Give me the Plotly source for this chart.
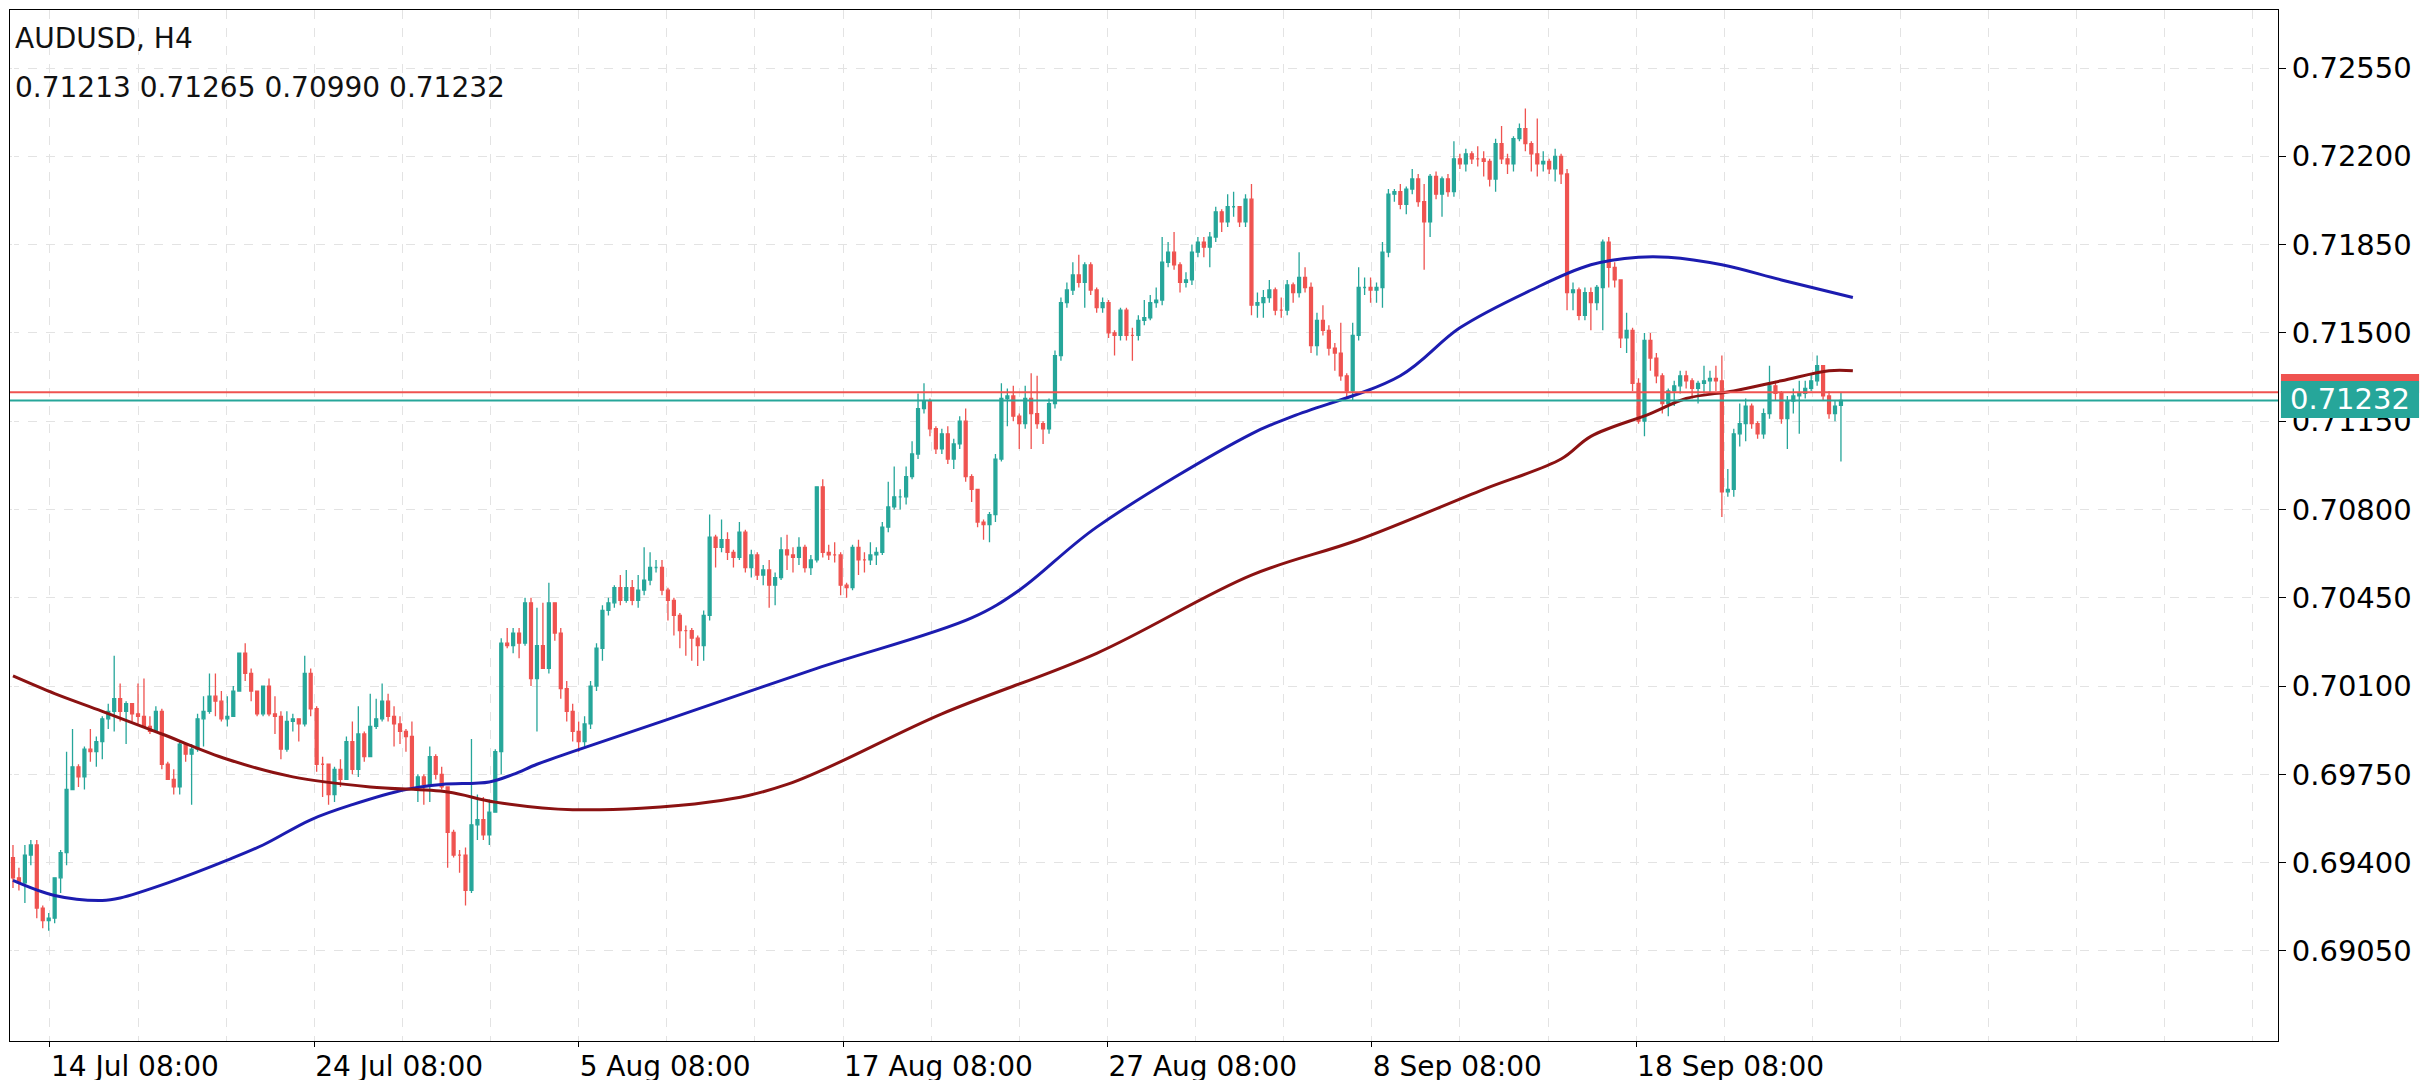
import plotly.graph_objects as go

# AUDUSD H4 candles, prices in pips (x 0.0001)
closes = [
    6934, 6932, 6943, 6947, 6922, 6917, 6918, 6934, 6944, 6969,
    6978, 6974, 6985, 6984, 6988, 6997, 7000, 7005, 7000, 7003,
    6999, 6998, 6994, 6992, 7000, 6979, 6973, 6970, 6987, 6983,
    6985, 6997, 7000, 7006, 7004, 6997, 6998, 7008, 7023, 7015,
    7008, 6999, 7010, 6999, 6998, 6985, 6996, 6997, 6995, 7015,
    7001, 6979, 6979, 6967, 6977, 6973, 6988, 6977, 6991, 6982,
    6994, 6997, 7004, 6998, 6995, 6992, 6990, 6970, 6974, 6971,
    6982, 6975, 6970, 6952, 6943, 6943, 6929, 6955, 6957, 6951,
    6960, 6984, 7027, 7026, 7031, 7027, 7043, 7013, 7026, 7017,
    7043, 7031,
    7009, 7000, 6992, 6988, 6995, 7010, 7025,
    7040, 7043, 7049, 7044, 7049, 7044, 7048, 7052, 7057, 7057,
    7048, 7044, 7038, 7032, 7032, 7029, 7026, 7038, 7069, 7065,
    7068, 7063, 7061, 7071, 7057, 7062, 7054, 7056, 7050, 7053,
    7064, 7062, 7061, 7065, 7057, 7060, 7089, 7063, 7062, 7062,
    7050, 7049, 7065, 7060, 7060, 7062, 7063, 7073, 7081, 7085,
    7085, 7093, 7102, 7120, 7123, 7112, 7104, 7110, 7100, 7106,
    7115, 7093, 7088, 7075, 7074, 7078, 7100, 7124, 7125, 7117,
    7114, 7124, 7118, 7114, 7112, 7122, 7141, 7162, 7167, 7173,
    7170, 7177, 7167, 7160, 7162, 7150, 7149, 7159, 7149, 7149,
    7155, 7156, 7162, 7163, 7178, 7182, 7177, 7170, 7171, 7182,
    7186, 7184, 7188, 7198, 7194, 7200, 7200, 7194, 7203, 7161,
    7162, 7164, 7167, 7159, 7159, 7169, 7166, 7172, 7168, 7145,
    7155, 7151, 7144, 7142, 7133, 7127, 7149, 7168, 7168, 7167,
    7168, 7182, 7205, 7206, 7201, 7207, 7211, 7202, 7194, 7212,
    7205, 7211, 7206, 7219, 7217, 7221, 7219, 7219, 7218, 7211,
    7225, 7219, 7217, 7227, 7231, 7225, 7221, 7217, 7218, 7215,
    7220, 7213, 7166, 7167, 7157,
    7166, 7162, 7168, 7186, 7176, 7171, 7148, 7151, 7130, 7115,
    7147, 7140, 7133, 7122, 7127, 7129, 7133, 7131, 7128, 7130,
    7131, 7132, 7131, 7087, 7088, 7110, 7114, 7121, 7114, 7110,
    7118, 7129, 7126, 7116, 7123, 7125, 7126, 7128, 7131, 7137,
    7125, 7118, 7121, 7123.2,
]
highs = [
    6947, 6938, 6947, 6949, 6949, 6923, 6920, 6934, 6945, 6984,
    6993, 6979, 6986, 6993, 6990, 6998, 7003, 7022, 7011, 7004,
    7002, 7011, 7013, 6998, 7002, 7001, 6980, 6977, 6988, 6986,
    6987, 6999, 7006, 7015, 7015, 7008, 7006, 7010, 7023, 7027,
    7017, 7008, 7010, 7013, 7006, 7000, 7000, 6999, 6997, 7022,
    7017, 7002, 6982, 6979, 6978, 6981, 6990, 6996, 7002, 6992,
    7007, 7005, 7011, 7007, 7002, 6998, 6993, 6996, 6975, 6975,
    6986, 6983, 6978, 6970, 6953, 6945, 6946, 6989, 6967, 6966,
    6965, 6985, 7029, 7033, 7033, 7033, 7045, 7045, 7041, 7043,
    7051, 7043,
    7033, 7012, 7003, 6996, 6998, 7012, 7027,
    7042, 7045, 7050, 7054, 7056, 7052, 7054, 7065, 7063, 7060,
    7060, 7049, 7045, 7039, 7034, 7033, 7030, 7040, 7078, 7070,
    7076, 7071, 7064, 7075, 7072, 7064, 7063, 7058, 7060, 7055,
    7069, 7070, 7065, 7069, 7066, 7062, 7089, 7092, 7066, 7067,
    7063, 7051, 7066, 7068, 7063, 7067, 7065, 7075, 7091, 7097,
    7088, 7097, 7107, 7126, 7130, 7124, 7113, 7112, 7113, 7108,
    7117, 7120, 7094, 7088, 7076, 7079, 7102, 7130, 7128, 7129,
    7118, 7129, 7134, 7133, 7115, 7124, 7143, 7164, 7170, 7178,
    7181, 7178, 7178, 7168, 7164, 7163, 7151, 7160, 7160, 7152,
    7157, 7163, 7165, 7168, 7188, 7186, 7190, 7178, 7174, 7185,
    7188, 7188, 7190, 7200, 7199, 7205, 7206, 7200, 7205, 7209,
    7166, 7167, 7171, 7168, 7164, 7171, 7170, 7182, 7176, 7170,
    7158, 7161, 7153, 7146, 7154, 7134, 7154, 7176, 7172, 7172,
    7170, 7186, 7207, 7207, 7209, 7208, 7215, 7213, 7209, 7213,
    7214, 7212, 7213, 7226, 7221, 7223, 7222, 7224, 7222, 7219,
    7227, 7232, 7221, 7228, 7233, 7239, 7226, 7235, 7222, 7219,
    7223, 7221, 7215, 7170, 7168,
    7168, 7168, 7169, 7187, 7188, 7178, 7168, 7158, 7152, 7132,
    7150, 7150, 7142, 7134, 7128, 7131, 7135, 7135, 7132, 7131,
    7137, 7135, 7137, 7141, 7096, 7112, 7122, 7124, 7122, 7115,
    7120, 7137, 7131, 7127, 7125, 7128, 7131, 7131, 7134, 7141,
    7136, 7127, 7123, 7126.5,
]
lows = [
    6930, 6929, 6924, 6939, 6918, 6914, 6913, 6916, 6928, 6939,
    6969, 6970, 6969, 6980, 6978, 6981, 6993, 6992, 6996, 6987,
    6996, 6995, 6994, 6991, 6995, 6977, 6973, 6967, 6967, 6980,
    6963, 6984, 6986, 6999, 6998, 6996, 6994, 7002, 7008, 7012,
    7004, 6998, 6998, 6998, 6991, 6981, 6984, 6992, 6988, 6994,
    6998, 6976, 6966, 6963, 6964, 6970, 6973, 6975, 6974, 6980,
    6992, 6993, 6996, 6996, 6986, 6987, 6984, 6969, 6964, 6963,
    6964, 6973, 6969, 6938, 6942, 6936, 6923, 6928, 6949, 6949,
    6947, 6960, 6975, 7025, 7023, 7021, 7026, 7010, 6992, 7017,
    7015, 7028,
    7005, 6996, 6988, 6984, 6986, 6993, 7008,
    7020, 7038, 7041, 7042, 7043, 7042, 7041, 7046, 7050, 7055,
    7046, 7036, 7030, 7025, 7022, 7020, 7018, 7020, 7036, 7057,
    7063, 7060, 7057, 7060, 7055, 7053, 7052, 7050, 7041, 7042,
    7052, 7056, 7055, 7058, 7055, 7054, 7059, 7061, 7060, 7059,
    7046, 7045, 7048, 7054, 7055, 7058, 7058, 7062, 7071, 7080,
    7080, 7082, 7092, 7100, 7118, 7109, 7102, 7102, 7098, 7096,
    7104, 7091, 7083, 7073, 7068, 7067, 7075, 7099, 7113, 7115,
    7104, 7112, 7104, 7112, 7106, 7110, 7120, 7139, 7160, 7165,
    7168, 7160, 7165, 7158, 7158, 7148, 7141, 7147, 7147, 7139,
    7147, 7153, 7155, 7160, 7161, 7176, 7175, 7166, 7168, 7169,
    7180, 7180, 7176, 7186, 7190, 7192, 7196, 7192, 7192, 7157,
    7156, 7156, 7162, 7157, 7156, 7157, 7162, 7164, 7166, 7142,
    7141, 7149, 7141, 7135, 7131, 7124, 7123, 7147, 7165, 7162,
    7162, 7160, 7180, 7202, 7199, 7197, 7205, 7200, 7175, 7188,
    7203, 7196, 7204, 7204, 7215, 7214, 7217, 7216, 7212, 7208,
    7206, 7217, 7213, 7214, 7226, 7222, 7214, 7212, 7214, 7213,
    7210, 7209, 7159, 7159, 7155,
    7155, 7151, 7159, 7151, 7168, 7168, 7144, 7142, 7127, 7114,
    7109, 7135, 7130, 7118, 7117, 7121, 7126, 7128, 7124, 7122,
    7126, 7126, 7127, 7077, 7085, 7085, 7105, 7107, 7112, 7108,
    7108, 7116, 7123, 7114, 7104, 7118, 7110, 7124, 7127, 7129,
    7123, 7116, 7115, 7099.0,
]
first_open = 6942
last_open = 7121.3

# moving averages read at a few points (candle index, price)
ma_blue_idx = [0, 7, 15, 18, 26, 36, 42, 50, 57, 66, 72, 80, 84, 88, 94, 109, 135, 161, 169,
               182, 208, 215, 233, 243, 255, 265, 273, 278, 287, 297, 309]
ma_blue_val = [6933, 6927, 6925, 6926, 6932, 6941, 6947, 6957, 6963, 6969, 6971, 6972, 6975,
               6979, 6984, 6996, 7017, 7037, 7048, 7073, 7110, 7117, 7133, 7152, 7167, 7177,
               7180, 7180, 7177, 7171, 7164]
ma_red_idx = [0, 7, 15, 25, 36, 47, 60, 73, 81, 94, 117, 130, 156, 182, 208, 226, 247, 260,
              265, 275, 281, 289, 297, 305, 309]
ma_red_val = [7014, 7007, 7000, 6991, 6981, 6974, 6970, 6968, 6964, 6961, 6964, 6971, 6999,
              7023, 7054, 7068, 7088, 7100, 7109, 7118, 7124, 7127, 7131, 7135, 7135]

tick_pos = [6.2, 50.6, 95.0, 139.4, 183.8, 228.2, 272.6]
tick_text = ["14 Jul 08:00", "24 Jul 08:00", "5 Aug 08:00", "17 Aug 08:00",
             "27 Aug 08:00", "8 Sep 08:00", "18 Sep 08:00"]
y_ticks = [0.69050, 0.69400, 0.69750, 0.70100, 0.70450, 0.70800, 0.71150,
           0.71500, 0.71850, 0.72200, 0.72550]
ask_price = 0.71265
bid_price = 0.71232

GREEN = "#26a69a"
RED = "#ef5350"
FONT = "DejaVu Sans"

c = [v / 10000 for v in closes]
h = [v / 10000 for v in highs]
l = [v / 10000 for v in lows]
o = [first_open / 10000] + c[:-1]
o[-1] = last_open / 10000
h = [max(a, b, x) for a, b, x in zip(h, o, c)]
l = [min(a, b, x) for a, b, x in zip(l, o, c)]
idx = list(range(len(c)))

fig = go.Figure()
fig.add_trace(go.Candlestick(
    x=idx, open=o, high=h, low=l, close=c,
    increasing=dict(line=dict(color=GREEN, width=1.3), fillcolor=GREEN),
    decreasing=dict(line=dict(color=RED, width=1.3), fillcolor=RED),
    whiskerwidth=0, showlegend=False,
))
fig.add_trace(go.Scatter(x=ma_blue_idx, y=[v / 10000 for v in ma_blue_val], mode="lines",
                         line=dict(color="#1c1cb0", width=3, shape="spline"), showlegend=False))
fig.add_trace(go.Scatter(x=ma_red_idx, y=[v / 10000 for v in ma_red_val], mode="lines",
                         line=dict(color="#8b1212", width=3, shape="spline"), showlegend=False))

fig.add_hline(y=ask_price, line=dict(color=RED, width=2))
fig.add_hline(y=bid_price, line=dict(color=GREEN, width=2))

# price tag on the axis: red (ask) strip peeking above the teal (last) tag
fig.add_shape(type="rect", xref="paper", yref="y", x0=1.0013, x1=1.0622,
              y0=0.71262, y1=0.71337, fillcolor=RED, line=dict(width=0), layer="above")
fig.add_shape(type="rect", xref="paper", yref="y", x0=1.0013, x1=1.0622,
              y0=0.71163, y1=0.71309, fillcolor=GREEN, line=dict(width=0), layer="above")
fig.add_annotation(xref="paper", yref="y", x=1.0317, y=0.71236, xanchor="center", yanchor="middle",
                   text="0.71232", showarrow=False,
                   font=dict(family=FONT, size=29, color="white"))
# panel edge at the far right
fig.add_shape(type="rect", xref="paper", yref="paper", x0=1.067, x1=1.08, y0=0.76, y1=0.896,
              fillcolor="#f4f4f4", line=dict(color="#e6e6e6", width=1))

fig.add_annotation(xref="paper", yref="paper", x=0.0015, y=0.972, xanchor="left", yanchor="middle",
                   text="AUDUSD, H4", showarrow=False, font=dict(family=FONT, size=28, color="#111"))
fig.add_annotation(xref="paper", yref="paper", x=0.0015, y=0.925, xanchor="left", yanchor="middle",
                   text="0.71213 0.71265 0.70990 0.71232", showarrow=False,
                   font=dict(family=FONT, size=28, color="#111"))

fig.update_layout(
    width=2436, height=1080,
    margin=dict(l=2, r=166, t=2, b=47),
    paper_bgcolor="white", plot_bgcolor="white",
    font=dict(family=FONT, size=28, color="black"),
    xaxis=dict(
        range=[-0.5, 380.4], rangeslider=dict(visible=False),
        tickmode="array", tickvals=tick_pos, ticktext=tick_text,
        ticklabelposition="outside right",
        showgrid=False, ticks="outside", ticklen=5, tickcolor="black",
        showline=True, linecolor="black", mirror=True,
        minor=dict(tick0=6.2, dtick=14.8, showgrid=True, gridcolor="#e3e3e3", griddash="dash", ticks=""),
        tickfont=dict(size=28),
    ),
    yaxis=dict(
        side="right", range=[0.68693, 0.72780],
        tickmode="array", tickvals=y_ticks, ticktext=[f"{v:.5f}" for v in y_ticks],
        showgrid=True, gridcolor="#e3e3e3", griddash="dash",
        ticks="outside", ticklen=7, tickcolor="black",
        showline=True, linecolor="black", mirror=True,
        tickfont=dict(size=29),
    ),
)

fig.write_html("out.html")
